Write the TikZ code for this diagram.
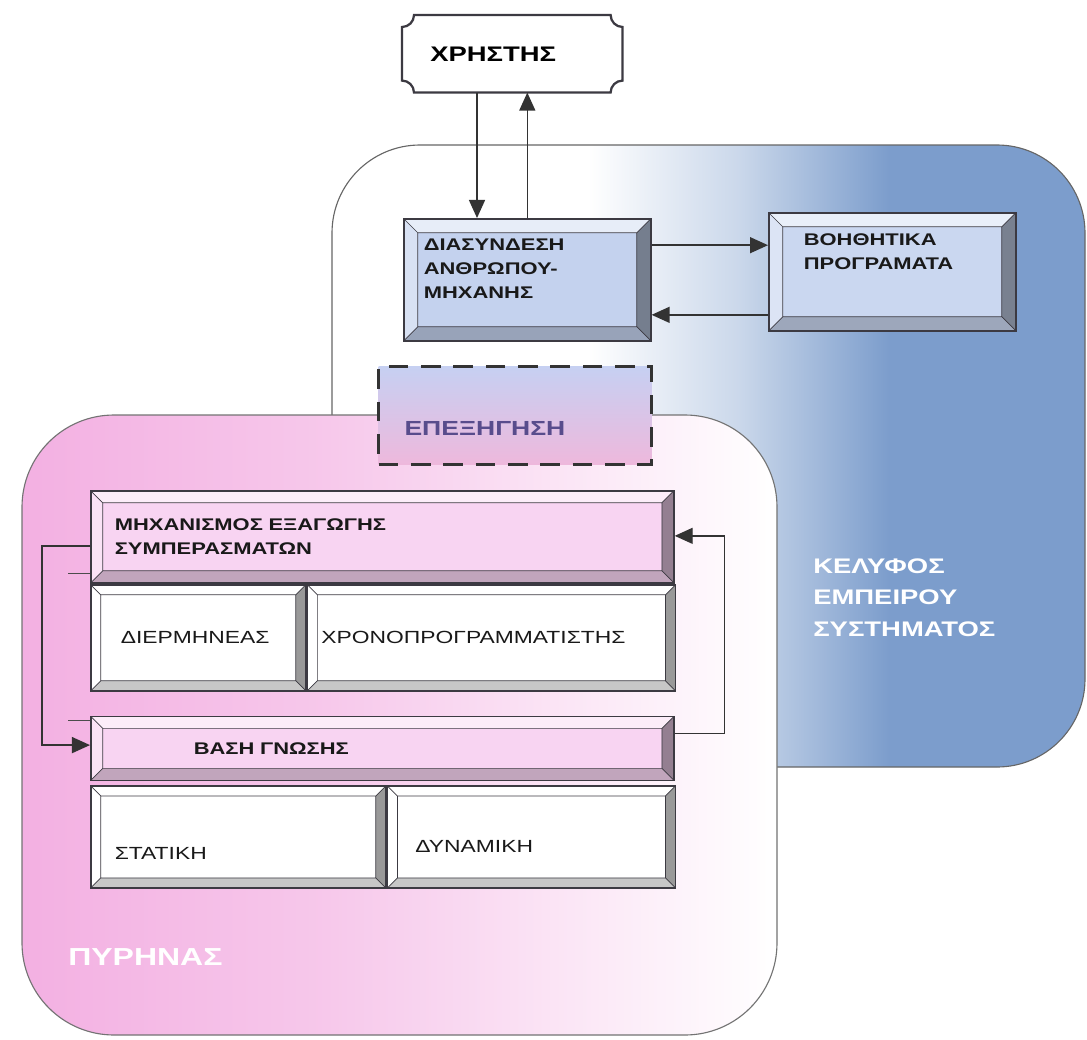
\documentclass[tikz,border=0pt]{standalone}
\usepackage{fontspec}
\setmainfont{Liberation Sans}[FakeStretch=1.3]
\usepackage{xcolor}
\usepackage{tikz}
\usetikzlibrary{shapes,arrows,positioning,calc,arrows.meta,backgrounds}

\definecolor{shellblue}{RGB}{124,157,204}
\definecolor{kernelpink}{RGB}{243,176,226}
\definecolor{boxpink}{RGB}{248,212,242}
\definecolor{ifaceblue}{RGB}{196,210,238}
\definecolor{expblue}{RGB}{198,208,242}
\definecolor{exppink}{RGB}{238,184,220}
\definecolor{exptext}{RGB}{88,76,140}
\definecolor{framegray}{RGB}{60,58,66}

\pgfdeclarehorizontalshading{shellfade}{100bp}{color(0bp)=(white); color(42bp)=(white); color(52bp)=(shellblue!40); color(62bp)=(shellblue); color(100bp)=(shellblue)}
\pgfdeclarehorizontalshading{kernelfade}{100bp}{color(0bp)=(kernelpink); color(25bp)=(kernelpink); color(45bp)=(kernelpink!70); color(62bp)=(kernelpink!30); color(75bp)=(white); color(100bp)=(white)}

% raised frame drawn inside a box
\newcommand{\bevelframe}[1]{%
  \coordinate (bnw) at (path picture bounding box.north west);
  \coordinate (bne) at (path picture bounding box.north east);
  \coordinate (bse) at (path picture bounding box.south east);
  \coordinate (bsw) at (path picture bounding box.south west);
  \coordinate (inw) at ($(bnw)+(#1,-#1)$);
  \coordinate (ine) at ($(bne)+(-#1,-#1)$);
  \coordinate (ise) at ($(bse)+(-#1,#1)$);
  \coordinate (isw) at ($(bsw)+(#1,#1)$);
  \fill[white, opacity=.6] (bnw) -- (bne) -- (ine) -- (inw) -- cycle;
  \fill[white, opacity=.35] (bnw) -- (inw) -- (isw) -- (bsw) -- cycle;
  \fill[black, opacity=.4] (bne) -- (bse) -- (ise) -- (ine) -- cycle;
  \fill[black, opacity=.22] (bsw) -- (isw) -- (ise) -- (bse) -- cycle;
  \draw[framegray, line width=.5pt] (inw) rectangle (ise)
    (bnw) -- (inw) (bne) -- (ine) (bse) -- (ise) (bsw) -- (isw);
}

\begin{document}
\begin{tikzpicture}[x=0.025cm, y=-0.025cm,
    bevelbox/.style={draw=framegray, line width=1.1pt, rectangle, anchor=north west,
      align=left, font=\fontsize{12.5}{17}\selectfont, text=black!90, inner ysep=0pt,
      path picture={\bevelframe{#1}}},
    bevelbox/.default=0.3cm,
    arr/.style={draw=black!80, line width=1pt, -{Triangle[length=4.5mm,width=4mm]}},
    tag/.style={text=white, align=left, inner sep=0pt}]
    \useasboundingbox (0,0) rectangle (1087,1040);

    % shell and kernel
    \shadedraw[draw=black!60, line width=.8pt, shading=shellfade, rounded corners=2.2cm] (332,145) rectangle (1085,767);
    \shadedraw[draw=black!55, line width=.8pt, shading=kernelfade, rounded corners=2.3cm] (22,415) rectangle (777,1035);

    \node [anchor=north west, minimum width=5.5cm, minimum height=1.925cm, text width=4.1cm, inner xsep=0.7cm,
           align=left, font=\bfseries\fontsize{15}{18}\selectfont] (user) at (402,15) {ΧΡΗΣΤΗΣ};
    \begin{scope}[on background layer]
    \draw [framegray, line width=1.6pt, fill=white] ([xshift=3mm]user.north west) -- ([xshift=-3mm]user.north east)
        arc[start angle=180, end angle=270, radius=3mm] -- ([yshift=3mm]user.south east)
        arc[start angle=90, end angle=180, radius=3mm] -- ([xshift=3mm]user.south west)
        arc[start angle=0, end angle=90, radius=3mm] -- ([yshift=-3mm]user.north west)
        arc[start angle=270, end angle=360, radius=3mm] -- cycle;
    \end{scope}

    \node [bevelbox=0.35cm, fill=ifaceblue, font=\bfseries\fontsize{12}{17}\selectfont, minimum height=3.05cm,
           text width=5.175cm, inner xsep=0.5cm, text height=9pt, text depth=51pt] (iface) at (403,218) {ΔΙΑΣΥΝΔΕΣΗ\\ΑΝΘΡΩΠΟΥ-\\ΜΗΧΑΝΗΣ};
    \node [bevelbox=0.35cm, fill=ifaceblue!90!white, font=\bfseries\fontsize{12}{17}\selectfont, minimum height=2.95cm,
           text width=4.425cm, inner xsep=0.875cm, text height=9pt, text depth=46pt] (helper) at (768,212) {ΒΟΗΘΗΤΙΚΑ\\ΠΡΟΓΡΑΜΑΤΑ};

    \draw [arr] ($(user.south west)!.34!(user.south east)$) coordinate (u1) -- (u1 |- iface.north);
    \draw [arr] (iface.north) -- (iface.north |- user.south);
    \draw [arr] ($(iface.north east)!.22!(iface.south east)$) coordinate (h1) -- (h1 -| helper.west);
    \draw [arr] ($(helper.north west)!.86!(helper.south west)$) coordinate (h2) -- (h2 -| iface.east);

    \node [anchor=north west, draw=black!80, line width=2.2pt, dash pattern=on 14pt off 9pt,
           top color=expblue, bottom color=exppink, minimum height=2.45cm, text width=5.525cm, inner xsep=0.65cm,
           align=left, text=exptext, font=\bfseries\fontsize{14.5}{17}\selectfont,
           text height=1cm, text depth=0pt] (expl) at (377,365) {ΕΠΕΞΗΓΗΣΗ};

    % kernel boxes
    \node [bevelbox, fill=boxpink, font=\bfseries\fontsize{12}{17}\selectfont, minimum height=2.3cm,
           text width=13.375cm, inner xsep=0.6cm] (mec) at (90,490) {ΜΗΧΑΝΙΣΜΟΣ ΕΞΑΓΩΓΗΣ\\ΣΥΜΠΕΡΑΣΜΑΤΩΝ};
    \node [bevelbox=0.25cm, fill=white, minimum height=2.65cm, text width=3.875cm, inner xsep=0.75cm] (interp) at (90,584) {ΔΙΕΡΜΗΝΕΑΣ};
    \node [bevelbox=0.25cm, fill=white, minimum height=2.65cm, text width=8.5cm, inner xsep=0.35cm,
           right=0pt of interp] (sched) {ΧΡΟΝΟΠΡΟΓΡΑΜΜΑΤΙΣΤΗΣ};

    \node [bevelbox, fill=boxpink, font=\bfseries\fontsize{12}{17}\selectfont, minimum height=1.6cm,
           text width=9.425cm, inner xsep=2.575cm, below=0.6cm of interp.south west, anchor=north west] (kb) {ΒΑΣΗ ΓΝΩΣΗΣ};
    \node [bevelbox=0.25cm, fill=white, minimum height=2.55cm, text width=6.175cm, inner xsep=0.6cm,
           text height=1.15cm, text depth=0pt, below=0.1cm of kb.south west, anchor=north west] (static) {ΣΤΑΤΙΚΗ};
    \node [bevelbox=0.25cm, fill=white, minimum height=2.55cm, text width=5.8cm, inner xsep=0.7cm,
           text height=0.8cm, text depth=0pt, right=0pt of static] (dynamic) {ΔΥΝΑΜΙΚΗ};

    \draw [arr] ($(mec.north west)!.6!(mec.south west)$) -- ++(-1.2cm,0) |- ($(kb.north west)!.45!(kb.south west)$);
    \draw [arr] ($(kb.north east)!.27!(kb.south east)$) -- ++(1.25cm,0) |- ($(mec.north east)!.49!(mec.south east)$);
    \draw [black!70, line width=.8pt] ($(mec.north west)!.89!(mec.south west)$) -- ++(-0.55cm,0);
    \draw [black!70, line width=.8pt] ($(kb.north west)!.08!(kb.south west)$) -- ++(-0.55cm,0);

    \node [tag, anchor=north west, font=\bfseries\fontsize{15}{22.5}\selectfont] (shelltag) at (813,558) {ΚΕΛΥΦΟΣ\\ΕΜΠΕΙΡΟΥ\\ΣΥΣΤΗΜΑΤΟΣ};
    \node [tag, anchor=west, font=\bfseries\fontsize{17.5}{20}\selectfont] (kerneltag) at (68,957) {ΠΥΡΗΝΑΣ};
\end{tikzpicture}
\end{document}
